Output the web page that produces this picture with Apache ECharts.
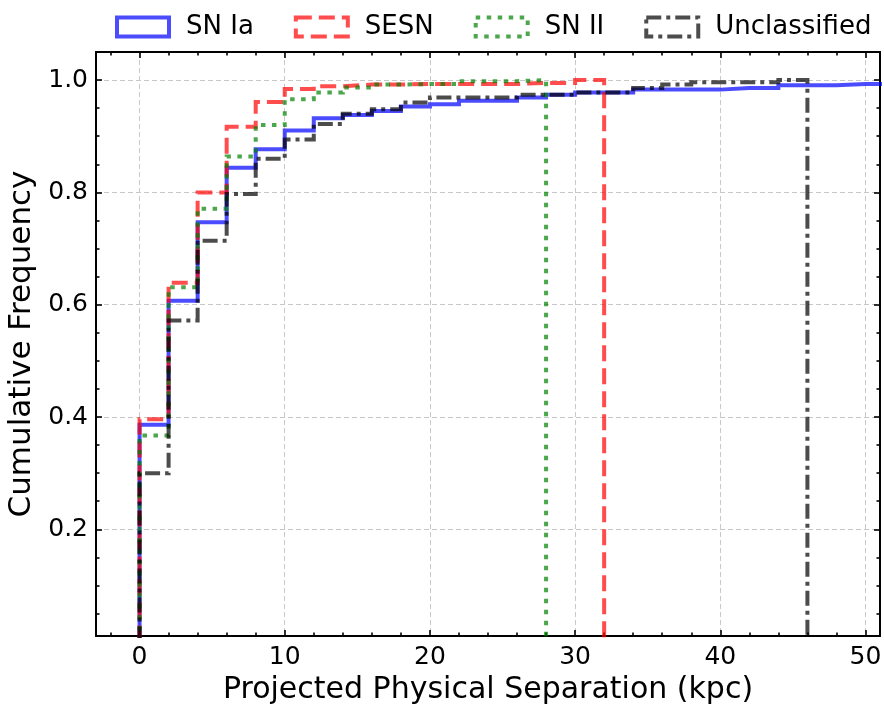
<!DOCTYPE html>
<html>
<head>
<meta charset="utf-8">
<script src="https://cdn.jsdelivr.net/npm/echarts@6/dist/echarts.min.js"></script>
<style>
  html, body { margin: 0; padding: 0; background: #ffffff; }
  #chart { width: 884px; height: 704px; }
</style>
</head>
<body>
<div id="chart"></div>
<script>
// Cumulative distributions of projected host separation, 2 kpc bins starting at 0
const binStart = 0;
const binWidth = 2;

const seriesNames = ['SN Ia', 'SESN', 'SN II', 'Unclassified'];

const snIa = [0.386, 0.607, 0.747, 0.844, 0.877, 0.910, 0.932, 0.938, 0.945, 0.953,
              0.957, 0.963, 0.963, 0.969, 0.974, 0.978, 0.978, 0.983, 0.983, 0.983,
              0.986, 0.986, 0.991, 0.991, 0.993, 0.993];
const sesn = [0.396, 0.639, 0.800, 0.917, 0.961, 0.984, 0.989, 0.992, 0.992, 0.993,
              0.993, 0.993, 0.993, 0.995, 0.995, 1.000];
const snII = [0.367, 0.631, 0.771, 0.864, 0.920, 0.966, 0.978, 0.987, 0.992, 0.993,
              0.993, 0.998, 0.998, 1.000];
const unclassified = [0.300, 0.572, 0.714, 0.797, 0.860, 0.894, 0.922, 0.940, 0.948, 0.960,
                      0.969, 0.969, 0.969, 0.974, 0.974, 0.978, 0.978, 0.986, 0.992, 0.996,
                      0.996, 0.996, 1.000];

const xTickValues = [0, 10, 20, 30, 40, 50];
const xMinorValues = [-2, 2, 4, 6, 8, 12, 14, 16, 18, 22, 24, 26, 28, 32, 34, 36, 38, 42, 44, 46, 48];
const yTickValues = [0.2, 0.4, 0.6, 0.8, 1.0];
const yMinorValues = [0.05, 0.1, 0.15, 0.25, 0.3, 0.35, 0.45, 0.5, 0.55, 0.65, 0.7, 0.75, 0.85, 0.9, 0.95];

// Step outline of a cumulative histogram: rises at the first edge, drops back at the last
function stepOutline(values) {
  const pts = [[binStart, 0]];
  values.forEach(function (v, i) {
    const a = binStart + i * binWidth;
    pts.push([a, v], [a + binWidth, v]);
  });
  pts.push([binStart + values.length * binWidth, 0]);
  return pts;
}

const FONT = 'DejaVu Sans';
const styles = [
  { color: 'rgba(0,0,255,0.7)',   dash: 'solid' },
  { color: 'rgba(255,0,0,0.7)',   dash: [16, 7] },
  { color: 'rgba(0,128,0,0.7)',   dash: [4.5, 6.5] },
  { color: 'rgba(0,0,0,0.7)',     dash: [15, 5, 4, 5] }
];
const datasets = [snIa, sesn, snII, unclassified];

const series = datasets.map(function (vals, i) {
  return {
    type: 'line',
    name: seriesNames[i],
    data: stepOutline(vals),
    symbol: 'none',
    showSymbol: false,
    clip: true,
    animation: false,
    lineStyle: { color: styles[i].color, width: 4, type: styles[i].dash, cap: 'butt', join: 'miter' },
    itemStyle: { color: styles[i].color },
    emphasis: { disabled: true }
  };
});

const tickLine = { color: '#000', width: 1.6 };
const frameLine = { show: true, onZero: false, lineStyle: { color: '#000', width: 2 } };
const noLine = { show: false, onZero: false };
const gridLine = { show: true, lineStyle: { color: '#c8c8c8', width: 1, type: [5, 3] } };

function xAxisDef(position, major, withLabels) {
  return {
    type: 'value', min: -3, max: 51, position: position,
    axisLine: major ? frameLine : noLine,
    axisTick: { show: true, inside: true, length: major ? 6 : 3.5, lineStyle: tickLine,
                customValues: major ? xTickValues : xMinorValues },
    axisLabel: withLabels
      ? { show: true, customValues: xTickValues, fontSize: 25, color: '#000', fontFamily: FONT, margin: 9 }
      : { show: false },
    splitLine: withLabels ? gridLine : { show: false },
    name: withLabels ? 'Projected Physical Separation (kpc)' : '',
    nameLocation: 'middle', nameGap: 39,
    nameTextStyle: { fontSize: 30, color: '#000', fontFamily: FONT }
  };
}
function yAxisDef(position, major, withLabels) {
  return {
    type: 'value', min: 0.01, max: 1.05, position: position,
    axisLine: major ? frameLine : noLine,
    axisTick: { show: true, inside: true, length: major ? 6 : 3.5, lineStyle: tickLine,
                customValues: major ? yTickValues : yMinorValues },
    axisLabel: withLabels
      ? { show: true, customValues: yTickValues, fontSize: 25, color: '#000', fontFamily: FONT, margin: 8,
          formatter: function (v) { return v.toFixed(1); } }
      : { show: false },
    splitLine: withLabels ? gridLine : { show: false },
    name: withLabels ? 'Cumulative Frequency' : '',
    nameLocation: 'middle', nameGap: 52, nameRotate: 90,
    nameTextStyle: { fontSize: 31, color: '#000', fontFamily: FONT }
  };
}

const legendData = seriesNames.map(function (n, i) {
  return {
    name: n, icon: 'rect',
    itemStyle: { color: 'rgba(0,0,0,0)', borderColor: styles[i].color, borderWidth: 4, borderType: styles[i].dash }
  };
});

const chart = echarts.init(document.getElementById('chart'), null, { renderer: 'canvas' });
chart.setOption({
  animation: false,
  backgroundColor: '#ffffff',
  grid: { left: 96, right: 4, top: 52, bottom: 68, containLabel: false, outerBoundsMode: 'none' },
  legend: {
    top: 9, left: 110, itemWidth: 52, itemHeight: 19, itemGap: 40,
    selectedMode: false,
    textStyle: { fontSize: 26, color: '#000', fontFamily: FONT, padding: [0, 0, 0, 12] },
    data: legendData
  },
  xAxis: [
    xAxisDef('bottom', true, true),
    xAxisDef('bottom', false, false),
    xAxisDef('top', true, false),
    xAxisDef('top', false, false)
  ],
  yAxis: [
    yAxisDef('left', true, true),
    yAxisDef('left', false, false),
    yAxisDef('right', true, false),
    yAxisDef('right', false, false)
  ],
  series: series
});
</script>
</body>
</html>
